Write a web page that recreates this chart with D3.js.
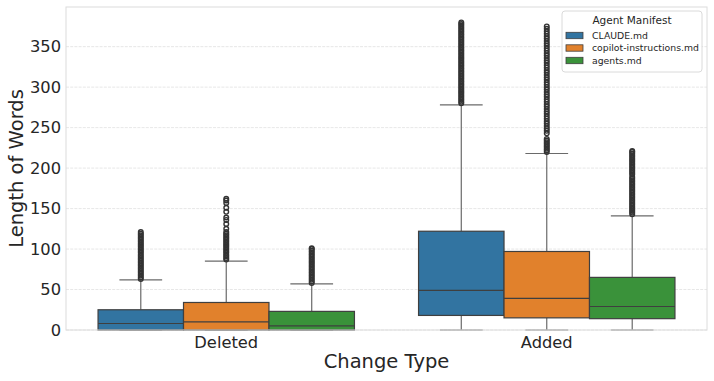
<!DOCTYPE html>
<html>
<head>
<meta charset="utf-8">
<script src="https://cdn.jsdelivr.net/npm/d3@7"></script>
<style>
  html, body { margin: 0; padding: 0; background: #fff; }
  svg { display: block; font-family: "DejaVu Sans", sans-serif; }
</style>
</head>
<body>
<svg id="chart" width="714" height="381"></svg>
<script>
// ---------- data ----------
const categories = ["Deleted", "Added"];
const manifests = ["CLAUDE.md", "copilot-instructions.md", "agents.md"];
const colors = ["#3274a1", "#e1812c", "#3a923a"];
const yTicks = [0, 50, 100, 150, 200, 250, 300, 350];

// box stats per manifest, indexed by category [Deleted, Added]
const claudeLow = [0, 0], claudeQ1 = [0, 18], claudeMed = [8, 49], claudeQ3 = [25, 122], claudeHigh = [62, 278];
const copilotLow = [0, 0], copilotQ1 = [0, 15], copilotMed = [10, 39], copilotQ3 = [34, 97], copilotHigh = [85, 218];
const agentsLow = [0, 0], agentsQ1 = [0, 14], agentsMed = [5, 29], agentsQ3 = [23, 65], agentsHigh = [57, 141];

// outliers
const claudeDeletedOut = [63,65,67,69,71,73,75,77,79,81,83,85,87,89,91,93,95,97,99,101,103,105,107,109,111,113,115,117,119,121];
const claudeAddedOut = [280,282,284,286,288,290,292,294,296,298,300,302,304,306,308,310,312,314,316,318,320,322,324,326,328,330,332,334,336,338,340,342,344,346,348,350,352,354,356,358,360,362,364,366,368,370,372,374,376,378,380];
const copilotDeletedOut = [87,89,91,93,95,97,99,101,103,105,107,109,111,113,115,117,119,121,125,131,136,139,146,151,157,160,162];
const copilotAddedOut = [220,222,224,226,228,230,232,234,236,243,246,249,252,255,258,261,264,267,270,273,276,279,282,285,288,291,294,297,300,303,306,309,312,315,318,321,324,327,330,333,336,339,342,345,348,351,354,357,360,363,366,369,372,375];
const agentsDeletedOut = [58,60,62,64,66,68,70,72,74,76,78,80,82,84,86,88,90,92,94,96,98,100,101];
const agentsAddedOut = [143,145,147,149,151,153,155,157,159,161,163,165,167,169,171,173,175,177,179,181,183,185,187,189,192,194,196,198,200,202,204,206,208,210,212,214,216,218,220,221];

const stats = [
  { low: claudeLow, q1: claudeQ1, med: claudeMed, q3: claudeQ3, high: claudeHigh, out: [claudeDeletedOut, claudeAddedOut] },
  { low: copilotLow, q1: copilotQ1, med: copilotMed, q3: copilotQ3, high: copilotHigh, out: [copilotDeletedOut, copilotAddedOut] },
  { low: agentsLow, q1: agentsQ1, med: agentsMed, q3: agentsQ3, high: agentsHigh, out: [agentsDeletedOut, agentsAddedOut] }
];

// ---------- layout ----------
const svg = d3.select("#chart");
const L = 66, R = 707, T = 7, B = 330;
const textColor = "#262626";
const lineColor = "#3f3f3f";

const x = d3.scaleBand().domain(categories).range([L, R]).padding(0);
const bw = x.bandwidth();
const xs = d3.scaleBand().domain(manifests).range([0, bw * 0.8]).padding(0);
const y = d3.scaleLinear().domain([0, 399]).range([B, T]);

// grid
svg.append("g").selectAll("line").data(yTicks).join("line")
  .attr("x1", L).attr("x2", R)
  .attr("y1", d => y(d)).attr("y2", d => y(d))
  .attr("stroke", "#e4e4e4").attr("stroke-width", 0.9)
  .attr("stroke-dasharray", "3,1.2");

// y axis
const yAxis = d3.axisLeft(y).tickValues(yTicks).tickSize(0).tickPadding(5);
const gy = svg.append("g").attr("transform", `translate(${L},0)`).call(yAxis);
gy.select(".domain").remove();
gy.selectAll("text").attr("fill", textColor).style("font-size", "16.3px").attr("font-family", "DejaVu Sans");

// x axis
const xAxis = d3.axisBottom(x).tickSize(0).tickPadding(6);
const gx = svg.append("g").attr("transform", `translate(0,${B})`).call(xAxis);
gx.select(".domain").remove();
gx.selectAll("text").attr("fill", textColor).style("font-size", "16.3px").attr("font-family", "DejaVu Sans");

// boxes
const boxG = svg.append("g");
categories.forEach((cat, ci) => {
  manifests.forEach((m, mi) => {
    const s = stats[mi];
    const x0 = x(cat) + bw * 0.1 + xs(m);
    const w = xs.bandwidth();
    const cx = x0 + w / 2;
    const g = boxG.append("g");
    // whiskers
    g.append("line").attr("x1", cx).attr("x2", cx).attr("y1", y(s.q3[ci])).attr("y2", y(s.high[ci]))
      .attr("stroke", "#6a6a6a").attr("stroke-width", 1.2);
    g.append("line").attr("x1", cx).attr("x2", cx).attr("y1", y(s.q1[ci])).attr("y2", y(s.low[ci]))
      .attr("stroke", "#6a6a6a").attr("stroke-width", 1.2);
    // caps
    [s.high[ci], s.low[ci]].forEach(v => {
      g.append("line").attr("x1", cx - w / 4).attr("x2", cx + w / 4).attr("y1", y(v)).attr("y2", y(v))
        .attr("stroke", "#6a6a6a").attr("stroke-width", 1.2);
    });
    // box
    g.append("rect").attr("x", x0).attr("width", w)
      .attr("y", y(s.q3[ci])).attr("height", y(s.q1[ci]) - y(s.q3[ci]))
      .attr("fill", colors[mi]).attr("stroke", lineColor).attr("stroke-width", 1.2);
    // median
    g.append("line").attr("x1", x0).attr("x2", x0 + w).attr("y1", y(s.med[ci])).attr("y2", y(s.med[ci]))
      .attr("stroke", lineColor).attr("stroke-width", 1.2);
    // fliers
    g.selectAll("circle").data(s.out[ci]).join("circle")
      .attr("cx", cx).attr("cy", d => y(d)).attr("r", 2.3)
      .attr("fill", "none").attr("stroke", "#333").attr("stroke-width", 1.4);
  });
});

// spines
svg.append("rect").attr("x", L).attr("y", T).attr("width", R - L).attr("height", B - T)
  .attr("fill", "none").attr("stroke", "#dcdcdc").attr("stroke-width", 1);

// axis labels
svg.append("text").attr("x", (L + R) / 2).attr("y", 368).attr("text-anchor", "middle")
  .attr("fill", textColor).style("font-size", "19.5px").text("Change Type");
svg.append("text").attr("transform", `translate(23,${(T + B) / 2}) rotate(-90)`).attr("text-anchor", "middle")
  .attr("fill", textColor).style("font-size", "19.5px").text("Length of Words");

// legend
const lg = svg.append("g");
lg.append("rect").attr("x", 562).attr("y", 11).attr("width", 140).attr("height", 61).attr("rx", 3)
  .attr("fill", "#fff").attr("fill-opacity", 0.85).attr("stroke", "#d6d6d6").attr("stroke-width", 0.9);
lg.append("text").attr("x", 632).attr("y", 24).attr("text-anchor", "middle")
  .attr("fill", textColor).style("font-size", "10.5px").text("Agent Manifest");
manifests.forEach((m, i) => {
  const cy = 35.5 + i * 12.5;
  lg.append("rect").attr("x", 566).attr("y", cy - 3.2).attr("width", 17).attr("height", 6.4)
    .attr("fill", colors[i]).attr("stroke", lineColor).attr("stroke-width", 0.8);
  lg.append("text").attr("x", 592).attr("y", cy + 3.3)
    .attr("fill", textColor).style("font-size", "9.3px").text(m);
});
</script>
</body>
</html>
